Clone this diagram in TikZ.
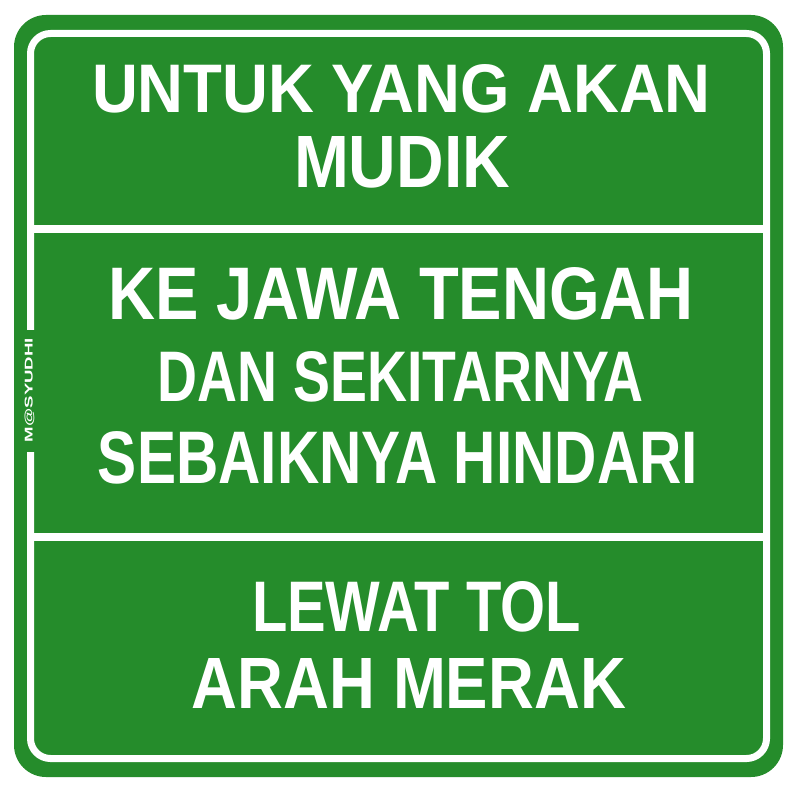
\documentclass[tikz,border=0pt]{standalone}
\usepackage{fontspec}
\setmainfont{Liberation Sans}
\setsansfont{Liberation Sans}
\usepackage{graphicx}
\definecolor{signgreen}{RGB}{37,140,43}
\newcommand{\fitline}[3]{\resizebox{#1pt}{#2pt}{\fontsize{70}{80}\selectfont\bfseries #3}}
\tikzset{
  signtext/.style={text=white, inner sep=0pt, outer sep=0pt, anchor=center},
  borderline/.style={draw=white, line width=7pt},
  divider/.style={draw=white, line width=8pt}
}
\begin{document}
\begin{tikzpicture}[x=1pt,y=-1pt]
\useasboundingbox (0,0) rectangle (800,800);
\fill[white] (0,0) rectangle (800,800);
% sign plate
\fill[signgreen, rounded corners=32pt] (14,15) rectangle (783,777);
% inner white border
\draw[borderline, rounded corners=20pt] (30.5,33.5) rectangle (766.5,758.5);
% dividers
\coordinate (d1l) at (30.5,229);
\coordinate (d1r) at (766.5,229);
\coordinate (d2l) at (30.5,537);
\coordinate (d2r) at (766.5,537);
\draw[divider] (d1l) -- (d1r);
\draw[divider] (d2l) -- (d2r);
% gap for watermark
\fill[signgreen] (25,330) rectangle (36,452);
\node[signtext, rotate=90] (wm) at (29.5,390) {\resizebox{104pt}{8pt}{\sffamily\bfseries M@SYUDHI}};
% panel 1
\node[signtext] (l1) at (401.5,89) {\fitline{619}{48}{UNTUK YANG AKAN}};
\node[signtext] (l2) at (402,162.5) {\fitline{216}{51}{MUDIK}};
% panel 2
\node[signtext] (l3) at (401,294) {\fitline{586}{52}{KE JAWA TENGAH}};
\node[signtext] (l4) at (401,377) {\fitline{486}{50}{DAN SEKITARNYA}};
\node[signtext] (l5) at (398,458) {\fitline{600}{52}{SEBAIKNYA HINDARI}};
% panel 3
\node[signtext] (l6) at (416.5,607) {\fitline{329}{50}{LEWAT TOL}};
\node[signtext] (l7) at (409,683) {\fitline{434}{50}{ARAH MERAK}};
\end{tikzpicture}
\end{document}
